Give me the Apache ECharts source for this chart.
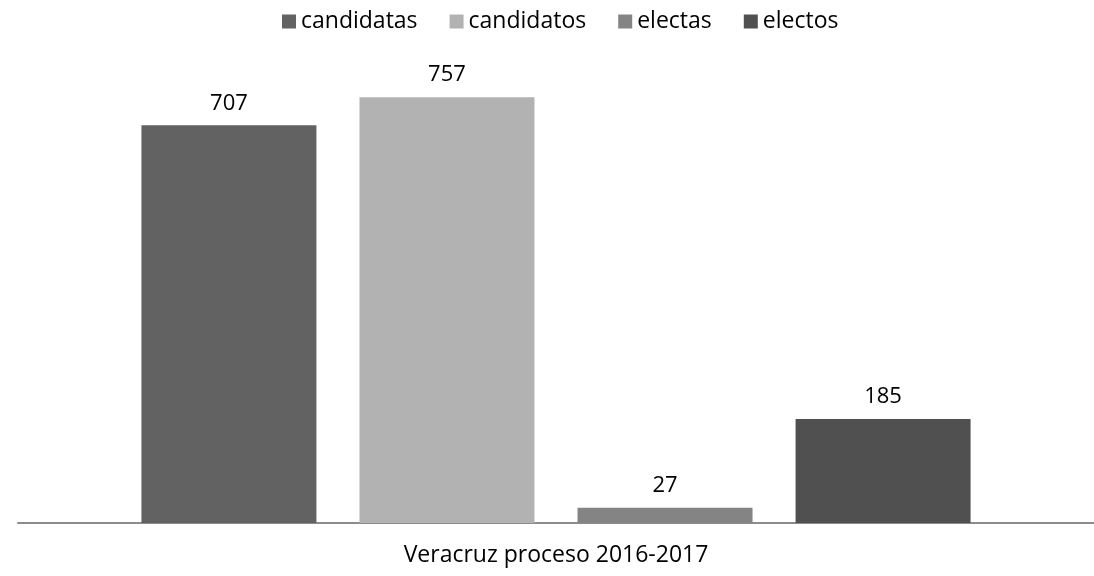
<!DOCTYPE html>
<html>
<head>
<meta charset="utf-8">
<script src="https://cdn.jsdelivr.net/npm/echarts@6/dist/echarts.min.js"></script>
<style>
  html, body { margin: 0; padding: 0; background: #fff; }
  #chart { width: 1094px; height: 576px; }
</style>
</head>
<body>
<div id="chart"></div>
<script>
  const categories = ['Veracruz proceso 2016-2017'];
  const seriesNames = ['candidatas', 'candidatos', 'electas', 'electos'];
  const candidatas = [707];
  const candidatos = [757];
  const electas = [27];
  const electos = [185];
  const colors = ['#626262', '#b2b2b2', '#848484', '#505050'];

  const font = '"Open Sans", "Liberation Sans", sans-serif';
  const chart = echarts.init(document.getElementById('chart'));

  const mk = (name, data, idx) => ({
    name: name,
    type: 'bar',
    data: data,
    barWidth: 175,
    barGap: '24.6%',
    itemStyle: { color: colors[idx] },
    label: {
      show: true,
      position: 'top',
      distance: 11,
      color: '#000',
      fontSize: 22,
      fontFamily: font
    }
  });

  chart.setOption({
    animation: false,
    legend: {
      top: 10,
      left: 282,
      padding: 0,
      itemWidth: 14,
      itemHeight: 14,
      itemGap: 32,
      icon: 'rect',
      textStyle: { fontSize: 23, color: '#000', fontFamily: font },
      data: seriesNames
    },
    grid: { left: 18, right: -12, top: 73, bottom: 53 },
    xAxis: {
      type: 'category',
      data: categories,
      axisLine: { lineStyle: { color: '#8c8c8c', width: 2 } },
      axisTick: { show: false },
      axisLabel: { margin: 21, fontSize: 23, color: '#000', fontFamily: font }
    },
    yAxis: {
      type: 'value',
      min: 0,
      max: 800,
      show: false,
      splitLine: { show: false }
    },
    series: [
      mk('candidatas', candidatas, 0),
      mk('candidatos', candidatos, 1),
      mk('electas', electas, 2),
      mk('electos', electos, 3)
    ]
  });
</script>
</body>
</html>
